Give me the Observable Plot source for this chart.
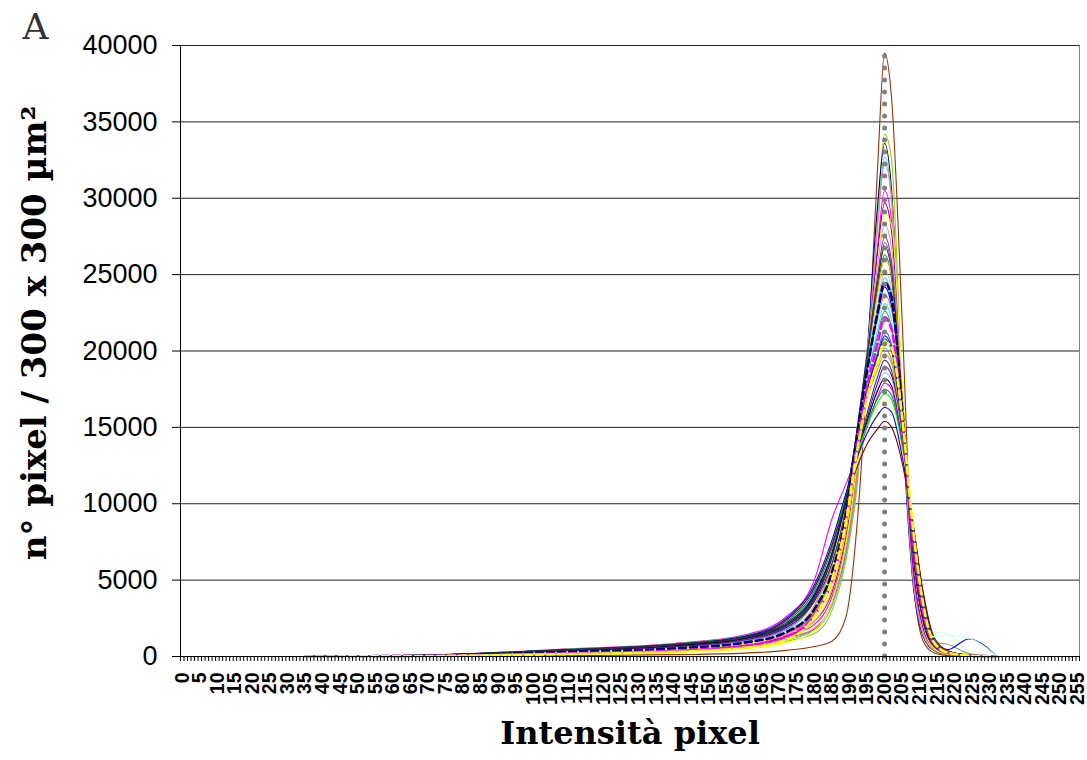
<!DOCTYPE html>
<html>
<head>
<meta charset="utf-8">
<script src="https://cdn.jsdelivr.net/npm/d3@7"></script>
<script src="https://cdn.jsdelivr.net/npm/@observablehq/plot@0.6"></script>
<style>
  html, body { margin: 0; padding: 0; background: #fff; }
  #chart { width: 1087px; height: 760px; }
</style>
</head>
<body>
<div id="chart"></div>
<script>
const intensityGrid = [35, 70, 110, 140, 160, 172, 180, 185, 189, 192, 195, 198, 200, 202, 205, 208, 211, 214, 218, 224, 232];

// Pixel counts per curve (one row per image), read at intensityGrid
const seriesValues = [
  [0, 10, 60, 120, 220, 400, 650, 1000, 2600, 8200, 18500, 32000, 39500, 36500, 22000, 5500, 1000, 250, 60, 0, 0],
  [0, 30, 180, 350, 600, 1000, 1500, 3000, 6300, 10800, 19000, 29000, 34200, 32500, 17000, 5200, 1400, 400, 120, 40, 0],
  [0, 40, 220, 400, 700, 1200, 1800, 3500, 6900, 11500, 19800, 29500, 33600, 30500, 15500, 5000, 1300, 400, 110, 30, 0],
  [0, 40, 200, 380, 650, 1100, 1700, 3300, 6600, 11200, 19200, 28500, 32700, 30000, 16000, 5300, 1400, 420, 130, 40, 0],
  [0, 35, 210, 400, 680, 1150, 1850, 3500, 7000, 11600, 19000, 28000, 32300, 29800, 16300, 5500, 1500, 450, 140, 40, 0],
  [0, 50, 250, 450, 750, 1300, 2100, 3900, 7500, 12200, 19300, 26800, 30500, 28500, 16800, 6000, 1800, 550, 170, 50, 0],
  [0, 50, 260, 460, 780, 1350, 2300, 4200, 7900, 12400, 19200, 26400, 29700, 27800, 16800, 6300, 1900, 600, 190, 50, 0],
  [0, 30, 150, 280, 500, 900, 1700, 3600, 7400, 12300, 19000, 25800, 29000, 28200, 18000, 7000, 2100, 550, 150, 40, 0],
  [0, 55, 270, 480, 820, 1450, 2600, 4900, 9000, 14000, 20000, 25600, 28300, 26700, 17000, 7000, 2200, 650, 210, 60, 0],
  [0, 60, 290, 500, 860, 1500, 2800, 5100, 9000, 14000, 19600, 24900, 27500, 25800, 16700, 7100, 2300, 680, 220, 60, 0],
  [0, 60, 300, 520, 880, 1550, 2800, 5000, 8800, 13600, 19200, 24500, 27100, 25500, 16500, 7100, 2300, 660, 200, 50, 0],
  [0, 90, 450, 800, 1300, 2100, 3500, 6000, 9600, 14500, 19500, 24000, 26300, 24700, 16000, 7000, 2300, 700, 220, 60, 0],
  [0, 40, 200, 380, 650, 1200, 2300, 4400, 8200, 13000, 18800, 23700, 26000, 25000, 17000, 7600, 2500, 700, 200, 50, 0],
  [0, 50, 260, 470, 800, 1450, 2700, 5000, 8800, 13800, 18700, 23000, 25300, 23900, 16000, 7200, 2500, 700, 250, 60, 0],
  [0, 60, 300, 530, 900, 1600, 3000, 5400, 9300, 14200, 18800, 22700, 24800, 23400, 15900, 7400, 2600, 750, 260, 70, 0],
  [0, 70, 340, 600, 1000, 1750, 3300, 5800, 9700, 14600, 18900, 22300, 24200, 22900, 15600, 7400, 2700, 800, 250, 70, 0],
  [0, 50, 270, 480, 820, 1500, 2900, 5200, 9100, 13900, 18300, 21800, 23700, 22600, 15600, 7500, 2700, 800, 250, 60, 0],
  [0, 60, 300, 540, 920, 1650, 3200, 5600, 9500, 14300, 18300, 21400, 23100, 22000, 15400, 7600, 2800, 850, 300, 80, 0],
  [0, 70, 360, 640, 1080, 1900, 3500, 6000, 9900, 14500, 18200, 21000, 22600, 21500, 15100, 7600, 2900, 850, 260, 70, 0],
  [0, 60, 300, 540, 920, 1700, 3300, 5800, 9700, 14100, 17600, 20300, 21800, 20900, 15100, 7800, 3100, 1600, 1500, 300, 0],
  [0, 70, 340, 600, 1000, 1800, 3500, 6000, 9900, 14200, 17500, 19900, 21300, 20400, 15000, 7900, 3100, 900, 280, 70, 0],
  [0, 80, 400, 700, 1150, 2000, 3800, 6400, 10300, 14400, 17500, 19700, 21000, 20200, 15000, 8100, 3200, 950, 300, 80, 0],
  [0, 60, 320, 580, 980, 1800, 3600, 6100, 9900, 13900, 17000, 19100, 20200, 19400, 14500, 8000, 3300, 950, 800, 200, 0],
  [0, 50, 260, 470, 800, 1500, 3300, 5900, 9700, 13600, 16800, 18800, 19800, 19200, 14700, 8300, 3400, 1000, 300, 80, 0],
  [0, 80, 400, 700, 1150, 2000, 3900, 6500, 10100, 13100, 15900, 18300, 19400, 18700, 14300, 8300, 3500, 1050, 320, 80, 0],
  [0, 70, 360, 650, 1080, 1900, 3700, 6300, 9900, 12900, 15600, 17900, 19000, 18400, 14300, 8500, 3600, 1050, 320, 80, 0],
  [0, 60, 300, 540, 920, 1700, 3500, 6100, 9700, 12700, 15300, 17600, 18600, 18100, 14200, 8600, 3700, 1100, 330, 80, 0],
  [0, 80, 420, 720, 1200, 2100, 4000, 6700, 10200, 13000, 15400, 17400, 18200, 17700, 13900, 8500, 3700, 1050, 320, 80, 0],
  [0, 100, 500, 850, 1400, 2600, 5000, 9000, 11300, 13000, 15000, 17000, 17900, 17500, 13800, 8600, 3800, 1100, 320, 80, 0],
  [0, 90, 450, 780, 1300, 2300, 4300, 7100, 10500, 13100, 15200, 16900, 17500, 17100, 13700, 8800, 3900, 1150, 340, 80, 0],
  [0, 90, 480, 820, 1350, 2400, 4500, 7300, 10600, 13100, 15100, 16600, 17200, 16800, 13500, 8800, 4000, 1200, 340, 80, 0],
  [0, 50, 260, 480, 830, 1600, 3500, 6200, 9700, 12500, 14700, 16200, 16800, 16500, 13400, 9000, 4200, 1300, 350, 80, 0],
  [0, 90, 460, 800, 1320, 2500, 4700, 7600, 10700, 12900, 14600, 15800, 16300, 16000, 13100, 8900, 4100, 1100, 450, 1150, 0],
  [0, 80, 420, 760, 1250, 2400, 4500, 7300, 10200, 12300, 13900, 14900, 15400, 15000, 12700, 8800, 4200, 1300, 380, 80, 0],
  [0, 90, 450, 780, 1280, 2200, 4100, 6800, 10400, 14300, 17400, 19600, 20800, 20000, 14800, 7900, 3200, 950, 300, 80, 0],
  [0, 60, 300, 540, 920, 1650, 3200, 5600, 9400, 14000, 18400, 21700, 23400, 22300, 15500, 7400, 2700, 1300, 1400, 1200, 0],
  [0, 90, 440, 780, 1250, 2100, 3600, 6100, 9800, 14600, 19800, 24500, 26800, 25200, 16400, 7000, 2300, 680, 220, 60, 0],
  [0, 60, 300, 530, 900, 1600, 3100, 5500, 9300, 14100, 18700, 22500, 24500, 23500, 16300, 7600, 2700, 800, 250, 70, 0],
  [0, 40, 200, 380, 680, 1300, 2700, 5000, 8800, 13500, 17600, 20500, 22200, 21400, 15500, 7800, 2900, 850, 250, 60, 0],
  [0, 30, 160, 300, 560, 1100, 2600, 5000, 8800, 13200, 16900, 19300, 20600, 20200, 15700, 8600, 3400, 950, 250, 60, 0]
];

const seriesColors = [
  "#993300", "#99CC00", "#000080", "#33CCCC", "#FF8080", "#FF00FF", "#800080", "#FFFF00",
  "#CC99FF", "#993366", "#666699", "#008000", "#FFCC00", "#FF99CC", "#00CCFF", "#0000FF",
  "#FF6600", "#00FFFF", "#339966", "#CCFFCC", "#3366FF", "#0000FF", "#969696", "#FF9900",
  "#333399", "#800080", "#99CCFF", "#000000", "#FF00FF", "#008080", "#00FF00", "#FFFF99",
  "#0000FF", "#800000", "#003366", "#CCFFFF", "#333333", "#000080", "#FF00FF", "#FFFF00"
];
const seriesDashed = [
  false, false, false, false, false, false, false, false,
  false, false, false, false, false, false, false, false,
  false, false, false, false, false, false, false, false,
  false, false, false, false, false, false, false, false,
  false, false, false, false, false, true, true, true
];

// Dotted reference line (peak intensity)
const markerIntensity = 200;

// Axis ticks and labels
const yTicks = [0, 5000, 10000, 15000, 20000, 25000, 30000, 35000, 40000];
const xTickLabels = [0, 5, 10, 15, 20, 25, 30, 35, 40, 45, 50, 55, 60, 65, 70, 75, 80, 85, 90, 95,
  100, 105, 110, 115, 120, 125, 130, 135, 140, 145, 150, 155, 160, 165, 170, 175, 180, 185, 190, 195,
  200, 205, 210, 215, 220, 225, 230, 235, 240, 245, 250, 255];
const xDomain = [-0.5, 255.5];
const categoryBoundaries = d3.range(xDomain[0], xDomain[1] + 0.01, 1);

const panelLabel = "A";
const xTitle = "Intensità pixel";
const yTitle = "n° pixel / 300 x 300 µm²";

const seriesMarks = seriesValues.map((vals, k) =>
  Plot.line(intensityGrid.map((x, i) => ({x, y: vals[i]})), {
    x: "x", y: "y",
    stroke: seriesColors[k],
    strokeWidth: seriesDashed[k] ? 2.6 : 1.1,
    strokeDasharray: seriesDashed[k] ? "7,4" : null,
    curve: "monotone-x"
  })
);

const serif = "'DejaVu Serif', 'Liberation Serif', serif";

const chart = Plot.plot({
  width: 1087,
  height: 760,
  marginLeft: 180,
  marginRight: 8,
  marginTop: 45,
  marginBottom: 104,
  style: {fontFamily: "'Liberation Sans', Arial, sans-serif", background: "#fff", color: "#000"},
  x: {domain: xDomain, axis: null},
  y: {domain: [0, 40000], axis: null},
  marks: [
    Plot.ruleY(yTicks.filter(d => d > 0), {stroke: "#222", strokeWidth: 1}),
    Plot.ruleX([xDomain[1]], {stroke: "#808080", strokeWidth: 1}),
    ...seriesMarks,
    Plot.ruleX([markerIntensity], {y1: 0, y2: 40000, stroke: "#808080", strokeWidth: 5,
      strokeDasharray: "0,12", strokeLinecap: "round"}),
    Plot.ruleX([xDomain[0]], {stroke: "#000", strokeWidth: 1}),
    Plot.ruleY([0], {stroke: "#000", strokeWidth: 1}),
    Plot.axisY(yTicks, {tickSize: 8, tickPadding: 15, tickFormat: d => String(d),
      fontSize: 27, label: null, stroke: "#000"}),
    Plot.axisX(categoryBoundaries, {tickSize: 5, tickFormat: () => "", label: null, stroke: "#000"}),
    Plot.text(xTickLabels, {x: d => d, y: 0, text: d => String(d), rotate: -90,
      textAnchor: "end", lineAnchor: "middle", dy: 16, fontSize: 19.5, fontWeight: "bold", fill: "#000"}),
    Plot.text([xTitle], {frameAnchor: "bottom", textAnchor: "middle", lineAnchor: "bottom", dy: 87,
      fontSize: 32, fontWeight: "bold", fontFamily: serif, fill: "#000"}),
    Plot.text([yTitle], {frameAnchor: "left", textAnchor: "middle", rotate: -90, lineAnchor: "bottom",
      dx: -135, dy: -18, fontSize: 34, fontWeight: "bold", fontFamily: serif, fill: "#000"}),
    Plot.text([panelLabel], {frameAnchor: "top-left", textAnchor: "start", lineAnchor: "bottom",
      dx: -158, dy: -7, fontSize: 36, fontFamily: serif, fill: "#333"})
  ]
});
document.getElementById("chart").appendChild(chart);
</script>
</body>
</html>
